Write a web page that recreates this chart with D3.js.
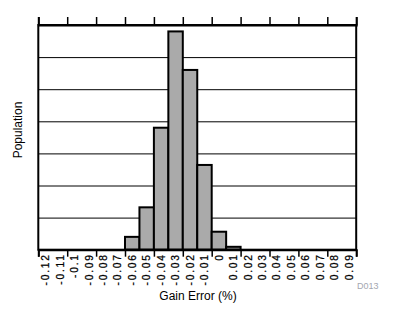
<!DOCTYPE html>
<html><head><meta charset="utf-8">
<script src="https://cdn.jsdelivr.net/npm/d3@7"></script>
<style>
html,body{margin:0;padding:0;background:#fff;}
svg{display:block;font-family:"Liberation Sans",Arial,sans-serif;}
</style></head>
<body><svg id="c" width="394" height="321"></svg>
<script>
// Data
const binLabels = ["-0.12","-0.11","-0.1","-0.09","-0.08","-0.07","-0.06","-0.05","-0.04","-0.03","-0.02","-0.01","0","0.01","0.02","0.03","0.04","0.05","0.06","0.07","0.08","0.09"];
const population = [0,0,0,0,0,0,4,13.2,38,68,56,26.4,5.6,0.9,0,0,0,0,0,0,0,0];
const gridValues = [10,20,30,40,50,60];
const xTitle = "Gain Error (%)";
const yTitle = "Population";
const figId = "D013";

const svg = d3.select("#c");
const L = 38.3, R = 356.2, T = 25, B = 249.7;

const xBand = d3.scaleBand().domain(binLabels).range([L, R]).padding(0);
const xEdge = d3.scaleLinear().domain([0, binLabels.length]).range([L, R]);
const y = d3.scaleLinear().domain([0, 70]).range([B, T]);

// gridlines
const grid = svg.append("g").attr("transform", `translate(${L},0)`)
  .call(d3.axisLeft(y).tickValues(gridValues).tickSize(-(R - L)).tickFormat(""));
grid.select(".domain").remove();
grid.selectAll("line").attr("stroke", "#000").attr("stroke-width", 1);

// bars
svg.append("g").selectAll("rect")
  .data(binLabels.map((b, i) => ({b, v: population[i]})).filter(d => d.v > 0))
  .join("rect")
  .attr("x", d => xBand(d.b))
  .attr("width", xBand.bandwidth())
  .attr("y", d => y(d.v))
  .attr("height", d => B - y(d.v))
  .attr("fill", "#aaaaaa")
  .attr("stroke", "#000")
  .attr("stroke-width", 2);

// frame
svg.append("rect").attr("x", L).attr("y", T).attr("width", R - L).attr("height", B - T)
  .attr("fill", "none").attr("stroke", "#000").attr("stroke-width", 2);

// tick marks bottom and top
const edgeTicks = d3.range(0, binLabels.length + 1, 2);
const bt = svg.append("g").attr("transform", `translate(0,${B})`)
  .call(d3.axisBottom(xEdge).tickValues(edgeTicks).tickSize(7).tickFormat(""));
bt.select(".domain").attr("stroke", "#000").attr("stroke-width", 2);
bt.selectAll("line").attr("stroke", "#000").attr("stroke-width", 1.5);
const tt = svg.append("g").attr("transform", `translate(0,${T})`)
  .call(d3.axisTop(xEdge).tickValues(edgeTicks).tickSize(8).tickFormat(""));
tt.select(".domain").attr("stroke", "#000").attr("stroke-width", 2);
tt.selectAll("line").attr("stroke", "#000").attr("stroke-width", 1.5);

// category labels
const lab = svg.append("g").attr("transform", `translate(0,${B})`)
  .call(d3.axisBottom(xBand).tickSize(0));
lab.select(".domain").remove();
lab.selectAll("text")
  .attr("font-size", 10.2)
  .attr("letter-spacing", 1.8)
  .attr("fill", "#000")
  .attr("stroke", "#000")
  .attr("stroke-width", 0.25)
  .attr("text-anchor", "end")
  .attr("transform", "translate(0,3.5) rotate(-90)")
  .attr("x", 0).attr("y", 0).attr("dy", "0.36em");
lab.selectAll("text").attr("font-family", null);

// titles
svg.append("text").attr("x", 198).attr("y", 300).attr("text-anchor", "middle")
  .attr("font-size", 12).attr("fill", "#000").text(xTitle);
svg.append("text").attr("transform", "translate(21.5,130) rotate(-90)")
  .attr("text-anchor", "middle").attr("font-size", 12).attr("fill", "#000").text(yTitle);
svg.append("text").attr("x", 357).attr("y", 289).attr("font-size", 9)
  .attr("fill", "#a3a6b0").text(figId);
</script></body></html>
